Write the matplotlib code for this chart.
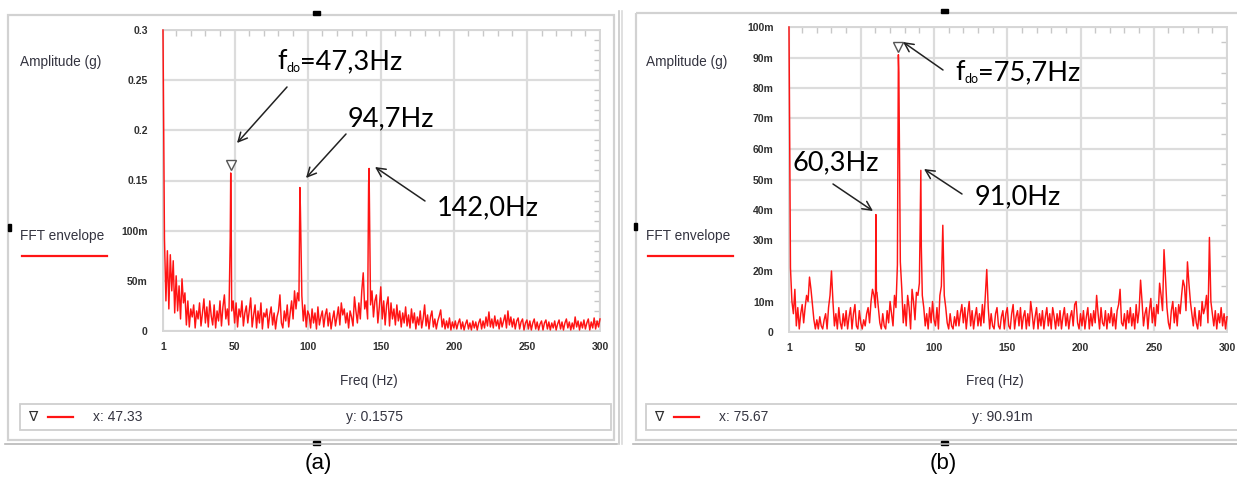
import numpy as np
import matplotlib
matplotlib.use("Agg")
import matplotlib.pyplot as plt
from matplotlib.patches import Rectangle
from matplotlib.ticker import MultipleLocator
import matplotlib.transforms as mtransforms

plt.rcParams.update({"font.family": ["Liberation Sans", "DejaVu Sans"]})

# FFT envelope, 1 Hz bins from 1 to 300 Hz, amplitude in mg
freq_bins = np.arange(1, 301)

env_a_mg = [
    300, 92, 30, 80, 22, 76, 40, 70, 18, 55,
    20, 45, 12, 52, 28, 38, 6, 30, 4, 22,
    14, 26, 3, 20, 12, 28, 5, 18, 32, 8,
    24, 4, 30, 15, 6, 26, 3, 20, 10, 30,
    5, 24, 36, 12, 22, 6, 93, 20, 30, 8,
    28, 4, 22, 14, 30, 5, 18, 25, 8, 20,
    33, 4, 16, 26, 3, 20, 8, 28, 2, 18,
    14, 22, 3, 16, 24, 6, 18, 2, 14, 20,
    36, 8, 3, 20, 10, 26, 4, 18, 30, 12,
    40, 22, 38, 30, 60, 35, 10, 26, 4, 20,
    16, 3, 22, 8, 18, 2, 24, 6, 14, 20,
    4, 16, 22, 5, 18, 2, 12, 20, 5, 14,
    24, 6, 28, 16, 22, 8, 18, 3, 20, 14,
    5, 34, 20, 8, 28, 12, 40, 58, 22, 30,
    12, 60, 26, 40, 14, 30, 36, 8, 24, 44,
    12, 30, 6, 26, 34, 5, 28, 12, 22, 6,
    26, 10, 20, 4, 18, 8, 24, 5, 16, 3,
    22, 8, 18, 2, 14, 6, 20, 3, 12, 26,
    5, 16, 2, 14, 20, 4, 12, 2, 10, 15,
    21, 4, 12, 2, 10, 3, 13, 1, 9, 3,
    10, 2, 8, 12, 2, 9, 1, 7, 11, 2,
    8, 1, 10, 3, 9, 1, 8, 12, 2, 10,
    3, 14, 5, 19, 4, 12, 3, 15, 5, 11,
    2, 13, 4, 10, 16, 3, 20, 6, 14, 4,
    12, 2, 10, 13, 2, 9, 12, 1, 8, 11,
    2, 10, 1, 8, 12, 2, 9, 1, 7, 10,
    1, 8, 11, 2, 9, 1, 8, 3, 10, 1,
    7, 11, 2, 9, 1, 8, 12, 3, 9, 1,
    8, 2, 14, 4, 10, 1, 9, 3, 11, 2,
    8, 12, 1, 9, 3, 13, 2, 10, 4, 12,
]
peaks_a_hz = [47.33, 47.67, 94.67, 95.0, 141.67, 142.0]
peaks_a_mg = [157.5, 109, 143, 123, 146, 162]

env_b_mg = [
    100, 21, 10, 6, 14, 2, 8, 1, 6, 9,
    3, 8, 12, 10, 18, 14, 9, 4, 1, 4,
    1, 5, 2, 1, 4, 6, 1, 8, 12, 20,
    10, 2, 6, 1, 8, 3, 1, 6, 2, 7,
    1, 5, 8, 1, 6, 9, 2, 1, 7, 3,
    1, 4, 2, 6, 8, 3, 10, 14, 12, 8,
    13, 8, 3, 1, 6, 2, 1, 7, 3, 10,
    6, 2, 12, 8, 22, 8, 23, 14, 3, 9,
    2, 12, 8, 1, 14, 10, 4, 13, 12, 16,
    10, 12, 8, 2, 6, 1, 8, 3, 10, 4,
    2, 8, 1, 12, 15, 30, 12, 8, 3, 1,
    6, 2, 1, 5, 2, 7, 2, 6, 9, 3,
    8, 1, 6, 10, 2, 7, 1, 5, 8, 2,
    6, 2, 9, 3, 12, 12, 8, 1, 6, 2,
    1, 6, 8, 2, 1, 5, 7, 1, 6, 8,
    2, 1, 6, 9, 1, 5, 7, 2, 8, 1,
    5, 7, 1, 6, 2, 10, 6, 1, 5, 8,
    1, 6, 2, 7, 1, 5, 8, 2, 6, 1,
    8, 5, 1, 6, 2, 7, 1, 5, 8, 2,
    6, 1, 5, 7, 2, 9, 10, 3, 1, 6,
    2, 7, 1, 5, 8, 1, 6, 2, 7, 3,
    12, 6, 1, 8, 3, 2, 7, 1, 6, 3,
    8, 2, 6, 1, 7, 9, 14, 3, 2, 6,
    1, 7, 3, 8, 2, 6, 1, 9, 3, 7,
    17, 10, 2, 6, 8, 1, 7, 11, 3, 8,
    2, 9, 6, 16, 12, 7, 27, 18, 8, 3,
    1, 7, 10, 3, 8, 2, 9, 6, 12, 17,
    15, 7, 23, 16, 10, 6, 2, 8, 3, 1,
    7, 2, 10, 6, 8, 12, 3, 31, 10, 6,
    2, 7, 1, 6, 3, 8, 2, 6, 1, 5,
]
peaks_b_hz = [60.33, 60.67, 75.67, 76.0, 91.0, 91.33, 106.0, 106.33, 136.0]
peaks_b_mg = [38.5, 13, 90.91, 85, 53, 28, 35, 27, 20.5]

# cursor readouts (Hz, g)
cursor_a = (47.33, 0.1575)
cursor_b = (75.67, 0.09091)

xticks = [1, 50, 100, 150, 200, 250, 300]
yticks_a = [0, 0.05, 0.10, 0.15, 0.20, 0.25, 0.30]
ylabels_a = ["0", "50m", "100m", "0.15", "0.2", "0.25", "0.3"]
yticks_b = [0, 0.01, 0.02, 0.03, 0.04, 0.05, 0.06, 0.07, 0.08, 0.09, 0.10]
ylabels_b = ["0", "10m", "20m", "30m", "40m", "50m", "60m", "70m", "80m", "90m", "100m"]


def spectrum(env_mg, pk_hz, pk_mg):
    pk_hz = np.asarray(pk_hz, float)
    keep = ~np.isin(np.round(freq_bins * 3), np.round(pk_hz * 3))
    f = np.concatenate([freq_bins[keep], pk_hz])
    a = np.concatenate([np.asarray(env_mg, float)[keep], pk_mg]) / 1000.0
    order = np.argsort(f)
    return f[order], a[order]


W, H = 1237, 479
fig = plt.figure(figsize=(W / 100, H / 100), dpi=100, facecolor="white")
renderer = fig.canvas.get_renderer()

# pixel-space layers: bg for the window chrome, fg for the callouts
bg = fig.add_axes([0, 0, 1, 1], zorder=0)
bg.set_xlim(0, W); bg.set_ylim(H, 0); bg.axis("off")
fg = fig.add_axes([0, 0, 1, 1], zorder=5)
fg.set_xlim(0, W); fg.set_ylim(H, 0); fg.axis("off")
fg.patch.set_alpha(0)

RED = "#ff1414"
TXT = "#343440"


def chrome(x0, x1, y0, y1, dash_x, dash_left):
    bg.add_patch(Rectangle((x0, y0), x1 - x0, y1 - y0, fill=False,
                           ec="#d2d2d2", lw=1.6))
    bg.plot([x0 - 3, x1 + 3], [y1 + 3.5, y1 + 3.5], color="#b8b8b8", lw=1.2)
    for (cx, cy, w, h) in [(dash_x, y0 - 2, 7, 3.5), (dash_x, y1 + 3, 7, 3.5),
                           (dash_left, (y0 + y1) / 2, 3, 7)]:
        bg.add_patch(Rectangle((cx - w / 2, cy - h / 2), w, h, color="black"))


def panel(px, f, a, yticks, ylabels, ystep, cursor, ytxt, lx):
    l, r, t, b = px
    ax = fig.add_axes([l / W, 1 - b / H, (r - l) / W, (b - t) / H], zorder=1)
    ax.plot(f, a, color=RED, lw=1.05, clip_on=False, zorder=3)
    ax.plot(*cursor, marker="v", ms=6.5, mfc="white", mec="#555555", mew=1.0,
            zorder=4,
            transform=mtransforms.offset_copy(ax.transData, fig, y=5.5, units="points"))
    ax.set_xlim(1, 300)
    ax.set_ylim(0, yticks[-1])
    ax.set_xticks(xticks)
    ax.set_xticklabels([str(v) for v in xticks])
    ax.set_yticks(yticks)
    ax.set_yticklabels(ylabels)
    ax.xaxis.set_minor_locator(MultipleLocator(10))
    ax.yaxis.set_minor_locator(MultipleLocator(ystep))
    ax.grid(True, which="major", color="#dcdcdc", lw=1.6)
    ax.tick_params(which="major", length=0, labelsize=7.5, labelcolor="#303030")
    ax.tick_params(axis="y", pad=11)
    ax.tick_params(axis="x", pad=8)
    ax.tick_params(which="minor", direction="in", top=True, right=True,
                   bottom=False, left=False, length=4, width=1, color="#c8c8c8")
    for lbl in ax.get_xticklabels() + ax.get_yticklabels():
        lbl.set_fontweight("bold")
    for s in ax.spines.values():
        s.set_color("#d6d6d6"); s.set_linewidth(1.4)

    # side labels, axis title and cursor readout bar
    bg.text(lx, 62, "Amplitude (g)", fontsize=9.8, color=TXT, va="center")
    bg.text(lx, 236, "FFT envelope", fontsize=9.8, color=TXT, va="center")
    bg.plot([lx + 2, lx + 87], [256, 256], color=RED, lw=1.6)
    bg.text((l + r) / 2 - 13, 381, "Freq (Hz)", fontsize=9.8, color=TXT,
            ha="center", va="center")
    bg.add_patch(Rectangle((lx, 404), min(r + 11, W + 5) - lx, 26, fill=False,
                           ec="#cfcfcf", lw=1.3))
    bg.text(lx + 13, 417, "∇", fontsize=10, color="#303030", ha="center",
            va="center", family=["DejaVu Sans"])
    bg.plot([lx + 28, lx + 53], [417, 417], color=RED, lw=1.6)
    bg.text(lx + 73, 417, f"x: {cursor[0]:.2f}", fontsize=10, color=TXT, va="center")
    bg.text(lx + 326, 417, ytxt, fontsize=10, color=TXT, va="center")
    return ax


def run_text(x, y, pieces):
    # lay out (text, size, dy) pieces one after another on a baseline
    for s, size, dy in pieces:
        t = fg.text(x, y + dy, s, fontsize=size, family="Lato", color="black",
                    va="baseline")
        bb = t.get_window_extent(renderer)
        x += bb.width * W / fig.bbox.width


# panel (a)
chrome(8, 614, 15, 440, 316, 9)
fa, aa = spectrum(env_a_mg, peaks_a_hz, peaks_a_mg)
panel((163, 600, 30, 331), fa, aa, yticks_a, ylabels_a, 0.01,
      cursor_a, f"y: {cursor_a[1]:.4f}", 20)

# panel (b)
bg.plot([619, 619], [11, 444], color="#c8c8c8", lw=1.2)
bg.plot([622, 622], [11, 444], color="#dadada", lw=1.2)
chrome(636, W + 5, 13, 440, 944, 635)
fb, ab = spectrum(env_b_mg, peaks_b_hz, peaks_b_mg)
panel((789, 1227, 27, 332), fb, ab, yticks_b, ylabels_b, 0.005,
      cursor_b, f"y: {cursor_b[1] * 1000:.2f}m", 646)

# peak callouts
SZ = 19.5
ARW = dict(arrowstyle="->", color="#222222", lw=1.1, mutation_scale=16,
           shrinkA=0, shrinkB=0)
callouts = [
    ("47,3Hz", (277, 69), (287, 87), (237, 143), True),
    ("94,7Hz", (348, 126), (346, 134), (306, 178), False),
    ("142,0Hz", (437, 215), (425, 201), (375, 167), False),
    ("75,7Hz", (955, 80), (943, 70), (903, 42), True),
    ("60,3Hz", (793, 170), (833, 184), (873, 211), False),
    ("91,0Hz", (975, 204), (962, 194), (924, 169), False),
]
for label, pos, tail, head, fdo in callouts:
    if fdo:
        run_text(pos[0], pos[1], [("f", SZ, 0), ("do", 9, 2.5), ("=" + label, SZ, 0)])
    else:
        run_text(pos[0], pos[1], [(label, SZ, 0)])
    fg.annotate("", xy=head, xytext=tail, arrowprops=ARW)

bg.text(318, 464, "(a)", fontsize=16, ha="center", va="center", color="black")
bg.text(943, 464, "(b)", fontsize=16, ha="center", va="center", color="black")

fig.savefig("out.png", dpi=100, facecolor="white")
